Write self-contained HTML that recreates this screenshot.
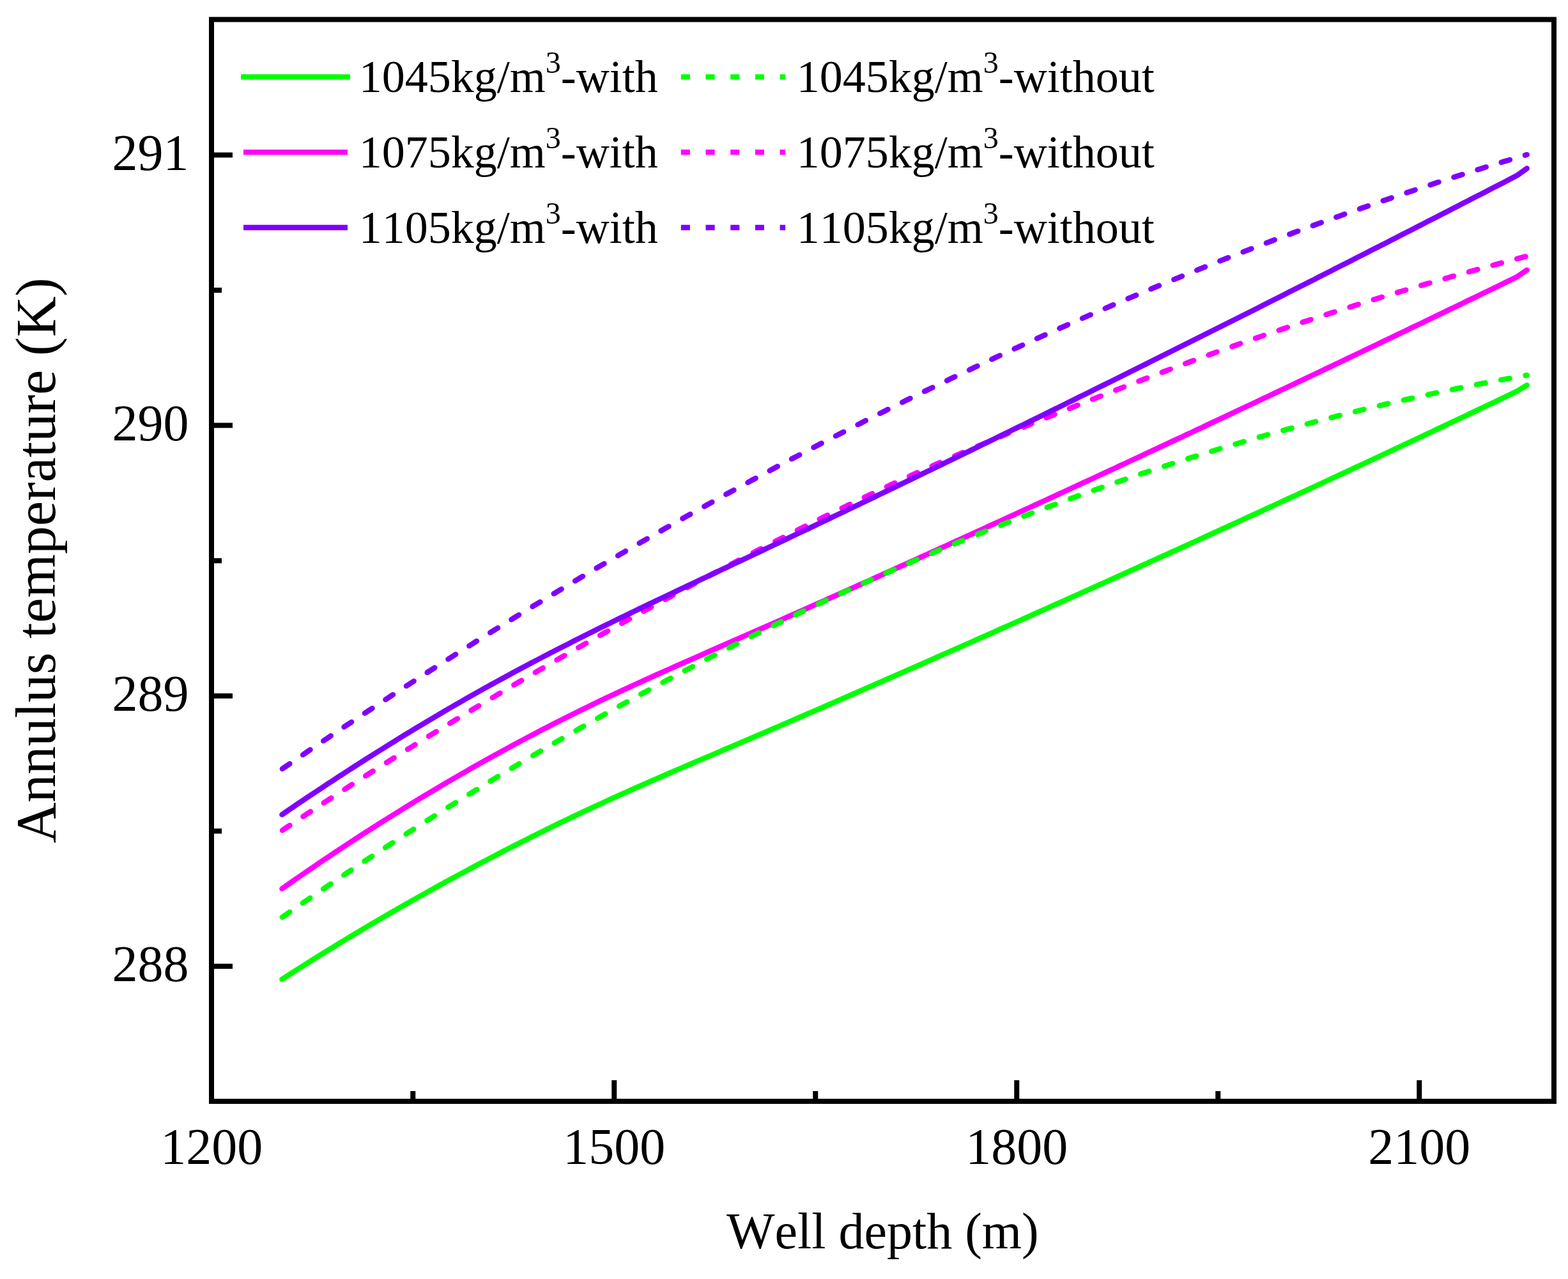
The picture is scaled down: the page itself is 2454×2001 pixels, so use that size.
<!DOCTYPE html>
<html lang="en"><head><meta charset="utf-8"><title>Annulus temperature vs well depth</title>
<style>html,body{margin:0;padding:0;background:#fff}svg{display:block}</style></head>
<body>
<svg xmlns="http://www.w3.org/2000/svg" width="2454" height="2001" viewBox="0 0 2454 2001">
<rect x="0" y="0" width="2454" height="2001" fill="#fff"/>
<g fill="none" stroke-width="8.4" stroke-linecap="round" stroke-linejoin="round">
<path d="M441.4,1390.4 L449.4,1384.8 L457.4,1379.2 L465.4,1373.6 L473.4,1368.1 L481.4,1362.6 L489.4,1357.2 L497.4,1351.7 L505.4,1346.3 L513.4,1341.0 L521.4,1335.6 L529.4,1330.3 L537.4,1325.0 L545.4,1319.8 L553.4,1314.5 L561.4,1309.3 L569.4,1304.1 L577.4,1299.0 L585.4,1293.9 L593.4,1288.8 L601.4,1283.8 L609.4,1278.7 L617.4,1273.7 L625.4,1268.8 L633.4,1263.8 L641.4,1258.9 L649.4,1254.0 L657.4,1249.2 L665.4,1244.3 L673.4,1239.6 L681.4,1234.8 L689.4,1230.0 L697.4,1225.3 L705.4,1220.7 L713.4,1216.0 L721.4,1211.4 L729.4,1206.8 L737.4,1202.2 L745.4,1197.7 L753.4,1193.2 L761.4,1188.7 L769.4,1184.3 L777.4,1179.8 L785.4,1175.4 L793.4,1171.1 L801.4,1166.7 L809.4,1162.4 L817.4,1158.1 L825.4,1153.9 L833.4,1149.7 L841.4,1145.5 L849.4,1141.3 L857.4,1137.2 L865.4,1133.1 L873.4,1129.0 L881.4,1125.0 L889.4,1120.9 L897.4,1116.9 L905.4,1113.0 L913.4,1109.1 L921.4,1105.2 L929.4,1101.3 L937.4,1097.4 L945.4,1093.6 L953.4,1089.8 L961.4,1086.1 L969.4,1082.3 L977.4,1078.6 L985.4,1074.9 L993.4,1071.2 L1001.4,1067.6 L1009.4,1063.9 L1017.4,1060.3 L1025.4,1056.7 L1033.4,1053.1 L1041.4,1049.5 L1049.4,1046.0 L1057.4,1042.4 L1065.4,1038.9 L1073.4,1035.3 L1081.4,1031.8 L1089.4,1028.3 L1097.4,1024.8 L1105.4,1021.2 L1113.4,1017.7 L1121.4,1014.2 L1129.4,1010.7 L1137.4,1007.2 L1145.4,1003.7 L1153.4,1000.2 L1161.4,996.7 L1169.4,993.2 L1177.4,989.7 L1185.4,986.1 L1193.4,982.6 L1201.4,979.1 L1209.4,975.6 L1217.4,972.0 L1225.4,968.5 L1233.4,964.9 L1241.4,961.4 L1249.4,957.8 L1257.4,954.3 L1265.4,950.7 L1273.4,947.2 L1281.4,943.6 L1289.4,940.0 L1297.4,936.4 L1305.4,932.9 L1313.4,929.3 L1321.4,925.7 L1329.4,922.1 L1337.4,918.5 L1345.4,914.9 L1353.4,911.3 L1361.4,907.8 L1369.4,904.2 L1377.4,900.6 L1385.4,896.9 L1393.4,893.3 L1401.4,889.7 L1409.4,886.1 L1417.4,882.5 L1425.4,878.9 L1433.4,875.3 L1441.4,871.6 L1449.4,868.0 L1457.4,864.4 L1465.4,860.8 L1473.4,857.1 L1481.4,853.5 L1489.4,849.8 L1497.4,846.2 L1505.4,842.6 L1513.4,838.9 L1521.4,835.3 L1529.4,831.6 L1537.4,828.0 L1545.4,824.3 L1553.4,820.7 L1561.4,817.0 L1569.4,813.3 L1577.4,809.7 L1585.4,806.0 L1593.4,802.3 L1601.4,798.7 L1609.4,795.0 L1617.4,791.3 L1625.4,787.6 L1633.4,784.0 L1641.4,780.3 L1649.4,776.6 L1657.4,772.9 L1665.4,769.2 L1673.4,765.5 L1681.4,761.8 L1689.4,758.1 L1697.4,754.4 L1705.4,750.7 L1713.4,747.0 L1721.4,743.3 L1729.4,739.6 L1737.4,735.9 L1745.4,732.2 L1753.4,728.4 L1761.4,724.7 L1769.4,721.0 L1777.4,717.3 L1785.4,713.6 L1793.4,709.8 L1801.4,706.1 L1809.4,702.4 L1817.4,698.6 L1825.4,694.9 L1833.4,691.1 L1841.4,687.4 L1849.4,683.7 L1857.4,679.9 L1865.4,676.2 L1873.4,672.4 L1881.4,668.7 L1889.4,664.9 L1897.4,661.1 L1905.4,657.4 L1913.4,653.6 L1921.4,649.9 L1929.4,646.1 L1937.4,642.3 L1945.4,638.5 L1953.4,634.8 L1961.4,631.0 L1969.4,627.2 L1977.4,623.4 L1985.4,619.7 L1993.4,615.9 L2001.4,612.1 L2009.4,608.3 L2017.4,604.5 L2025.4,600.7 L2033.4,596.9 L2041.4,593.1 L2049.4,589.3 L2057.4,585.5 L2065.4,581.7 L2073.4,577.9 L2081.4,574.1 L2089.4,570.3 L2097.4,566.5 L2105.4,562.6 L2113.4,558.8 L2121.4,555.0 L2129.4,551.2 L2137.4,547.4 L2145.4,543.5 L2153.4,539.7 L2161.4,535.9 L2169.4,532.0 L2177.4,528.2 L2185.4,524.4 L2193.4,520.5 L2201.4,516.7 L2209.4,512.8 L2217.4,509.0 L2225.4,505.2 L2233.4,501.3 L2241.4,497.5 L2249.4,493.6 L2257.4,489.7 L2265.4,485.9 L2273.4,482.0 L2281.4,478.2 L2289.4,474.3 L2297.4,470.4 L2305.4,466.6 L2313.4,462.7 L2321.4,458.8 L2329.4,455.0 L2337.4,451.1 L2345.4,447.2 L2353.4,443.3 L2361.4,439.4 L2369.4,435.5 L2372.8,433.9 L2389.7,422.6" stroke="#ff00ff"/>
<path d="M441.4,1299.4 L449.4,1294.0 L457.4,1288.7 L465.4,1283.4 L473.4,1278.1 L481.4,1272.8 L489.4,1267.5 L497.4,1262.3 L505.4,1257.0 L513.4,1251.8 L521.4,1246.6 L529.4,1241.4 L537.4,1236.2 L545.4,1231.0 L553.4,1225.9 L561.4,1220.8 L569.4,1215.6 L577.4,1210.5 L585.4,1205.4 L593.4,1200.4 L601.4,1195.3 L609.4,1190.3 L617.4,1185.2 L625.4,1180.2 L633.4,1175.2 L641.4,1170.2 L649.4,1165.2 L657.4,1160.3 L665.4,1155.3 L673.4,1150.4 L681.4,1145.5 L689.4,1140.6 L697.4,1135.7 L705.4,1130.8 L713.4,1125.9 L721.4,1121.1 L729.4,1116.2 L737.4,1111.4 L745.4,1106.6 L753.4,1101.8 L761.4,1097.0 L769.4,1092.3 L777.4,1087.5 L785.4,1082.8 L793.4,1078.0 L801.4,1073.3 L809.4,1068.6 L817.4,1063.9 L825.4,1059.2 L833.4,1054.6 L841.4,1049.9 L849.4,1045.3 L857.4,1040.6 L865.4,1036.0 L873.4,1031.4 L881.4,1026.8 L889.4,1022.2 L897.4,1017.7 L905.4,1013.1 L913.4,1008.6 L921.4,1004.1 L929.4,999.5 L937.4,995.0 L945.4,990.5 L953.4,986.1 L961.4,981.6 L969.4,977.1 L977.4,972.7 L985.4,968.3 L993.4,963.8 L1001.4,959.4 L1009.4,955.0 L1017.4,950.7 L1025.4,946.3 L1033.4,941.9 L1041.4,937.6 L1049.4,933.2 L1057.4,928.9 L1065.4,924.6 L1073.4,920.3 L1081.4,916.0 L1089.4,911.7 L1097.4,907.5 L1105.4,903.2 L1113.4,899.0 L1121.4,894.7 L1129.4,890.5 L1137.4,886.3 L1145.4,882.1 L1153.4,877.9 L1161.4,873.8 L1169.4,869.6 L1177.4,865.5 L1185.4,861.3 L1193.4,857.2 L1201.4,853.1 L1209.4,849.0 L1217.4,844.9 L1225.4,840.9 L1233.4,836.8 L1241.4,832.8 L1249.4,828.7 L1257.4,824.7 L1265.4,820.7 L1273.4,816.7 L1281.4,812.8 L1289.4,808.8 L1297.4,804.9 L1305.4,800.9 L1313.4,797.0 L1321.4,793.2 L1329.4,789.3 L1337.4,785.4 L1345.4,781.6 L1353.4,777.8 L1361.4,774.0 L1369.4,770.2 L1377.4,766.4 L1385.4,762.7 L1393.4,758.9 L1401.4,755.2 L1409.4,751.5 L1417.4,747.8 L1425.4,744.2 L1433.4,740.5 L1441.4,736.9 L1449.4,733.3 L1457.4,729.8 L1465.4,726.2 L1473.4,722.7 L1481.4,719.1 L1489.4,715.6 L1497.4,712.1 L1505.4,708.7 L1513.4,705.2 L1521.4,701.8 L1529.4,698.4 L1537.4,695.0 L1545.4,691.6 L1553.4,688.2 L1561.4,684.8 L1569.4,681.5 L1577.4,678.2 L1585.4,674.9 L1593.4,671.6 L1601.4,668.3 L1609.4,665.0 L1617.4,661.7 L1625.4,658.5 L1633.4,655.3 L1641.4,652.0 L1649.4,648.8 L1657.4,645.6 L1665.4,642.4 L1673.4,639.2 L1681.4,636.0 L1689.4,632.8 L1697.4,629.7 L1705.4,626.5 L1713.4,623.3 L1721.4,620.2 L1729.4,617.0 L1737.4,613.9 L1745.4,610.8 L1753.4,607.6 L1761.4,604.5 L1769.4,601.4 L1777.4,598.3 L1785.4,595.3 L1793.4,592.2 L1801.4,589.1 L1809.4,586.1 L1817.4,583.0 L1825.4,580.0 L1833.4,577.0 L1841.4,574.0 L1849.4,571.0 L1857.4,568.0 L1865.4,565.0 L1873.4,562.1 L1881.4,559.1 L1889.4,556.2 L1897.4,553.3 L1905.4,550.4 L1913.4,547.5 L1921.4,544.6 L1929.4,541.8 L1937.4,538.9 L1945.4,536.1 L1953.4,533.3 L1961.4,530.5 L1969.4,527.7 L1977.4,524.9 L1985.4,522.2 L1993.4,519.4 L2001.4,516.7 L2009.4,514.0 L2017.4,511.3 L2025.4,508.7 L2033.4,506.0 L2041.4,503.3 L2049.4,500.7 L2057.4,498.1 L2065.4,495.5 L2073.4,492.9 L2081.4,490.3 L2089.4,487.8 L2097.4,485.2 L2105.4,482.7 L2113.4,480.2 L2121.4,477.6 L2129.4,475.2 L2137.4,472.7 L2145.4,470.2 L2153.4,467.7 L2161.4,465.3 L2169.4,462.9 L2177.4,460.5 L2185.4,458.1 L2193.4,455.7 L2201.4,453.3 L2209.4,450.9 L2217.4,448.6 L2225.4,446.2 L2233.4,443.9 L2241.4,441.6 L2249.4,439.3 L2257.4,437.0 L2265.4,434.7 L2273.4,432.4 L2281.4,430.2 L2289.4,427.9 L2297.4,425.7 L2305.4,423.5 L2313.4,421.3 L2321.4,419.1 L2329.4,416.9 L2337.4,414.7 L2345.4,412.6 L2353.4,410.4 L2361.4,408.3 L2369.4,406.1 L2377.4,404.0 L2385.4,401.9 L2389.7,400.8" stroke="#ff00ff" stroke-dasharray="13.9 24.99" stroke-dashoffset="-0.65"/>
<path d="M441.4,1532.1 L449.4,1526.9 L457.4,1521.8 L465.4,1516.7 L473.4,1511.7 L481.4,1506.6 L489.4,1501.6 L497.4,1496.6 L505.4,1491.6 L513.4,1486.7 L521.4,1481.8 L529.4,1476.9 L537.4,1472.0 L545.4,1467.2 L553.4,1462.4 L561.4,1457.6 L569.4,1452.8 L577.4,1448.1 L585.4,1443.4 L593.4,1438.7 L601.4,1434.0 L609.4,1429.4 L617.4,1424.8 L625.4,1420.2 L633.4,1415.6 L641.4,1411.1 L649.4,1406.6 L657.4,1402.1 L665.4,1397.6 L673.4,1393.1 L681.4,1388.7 L689.4,1384.3 L697.4,1379.9 L705.4,1375.5 L713.4,1371.2 L721.4,1366.9 L729.4,1362.6 L737.4,1358.3 L745.4,1354.0 L753.4,1349.8 L761.4,1345.6 L769.4,1341.4 L777.4,1337.2 L785.4,1333.1 L793.4,1328.9 L801.4,1324.8 L809.4,1320.8 L817.4,1316.7 L825.4,1312.7 L833.4,1308.6 L841.4,1304.7 L849.4,1300.7 L857.4,1296.7 L865.4,1292.8 L873.4,1288.9 L881.4,1285.1 L889.4,1281.2 L897.4,1277.4 L905.4,1273.6 L913.4,1269.8 L921.4,1266.1 L929.4,1262.4 L937.4,1258.7 L945.4,1255.0 L953.4,1251.3 L961.4,1247.7 L969.4,1244.1 L977.4,1240.5 L985.4,1236.9 L993.4,1233.4 L1001.4,1229.8 L1009.4,1226.3 L1017.4,1222.8 L1025.4,1219.3 L1033.4,1215.8 L1041.4,1212.3 L1049.4,1208.9 L1057.4,1205.4 L1065.4,1202.0 L1073.4,1198.5 L1081.4,1195.1 L1089.4,1191.7 L1097.4,1188.3 L1105.4,1184.9 L1113.4,1181.5 L1121.4,1178.0 L1129.4,1174.6 L1137.4,1171.2 L1145.4,1167.8 L1153.4,1164.4 L1161.4,1161.0 L1169.4,1157.6 L1177.4,1154.1 L1185.4,1150.7 L1193.4,1147.3 L1201.4,1143.8 L1209.4,1140.4 L1217.4,1137.0 L1225.4,1133.5 L1233.4,1130.1 L1241.4,1126.6 L1249.4,1123.2 L1257.4,1119.7 L1265.4,1116.2 L1273.4,1112.8 L1281.4,1109.3 L1289.4,1105.8 L1297.4,1102.3 L1305.4,1098.9 L1313.4,1095.4 L1321.4,1091.9 L1329.4,1088.4 L1337.4,1084.9 L1345.4,1081.4 L1353.4,1077.9 L1361.4,1074.4 L1369.4,1070.9 L1377.4,1067.4 L1385.4,1063.9 L1393.4,1060.4 L1401.4,1056.9 L1409.4,1053.4 L1417.4,1049.9 L1425.4,1046.4 L1433.4,1042.8 L1441.4,1039.3 L1449.4,1035.8 L1457.4,1032.3 L1465.4,1028.7 L1473.4,1025.2 L1481.4,1021.7 L1489.4,1018.1 L1497.4,1014.6 L1505.4,1011.1 L1513.4,1007.5 L1521.4,1004.0 L1529.4,1000.4 L1537.4,996.9 L1545.4,993.3 L1553.4,989.8 L1561.4,986.2 L1569.4,982.6 L1577.4,979.1 L1585.4,975.5 L1593.4,972.0 L1601.4,968.4 L1609.4,964.8 L1617.4,961.2 L1625.4,957.7 L1633.4,954.1 L1641.4,950.5 L1649.4,946.9 L1657.4,943.4 L1665.4,939.8 L1673.4,936.2 L1681.4,932.6 L1689.4,929.0 L1697.4,925.4 L1705.4,921.8 L1713.4,918.2 L1721.4,914.6 L1729.4,911.0 L1737.4,907.4 L1745.4,903.8 L1753.4,900.2 L1761.4,896.6 L1769.4,892.9 L1777.4,889.3 L1785.4,885.7 L1793.4,882.1 L1801.4,878.4 L1809.4,874.8 L1817.4,871.2 L1825.4,867.6 L1833.4,863.9 L1841.4,860.3 L1849.4,856.6 L1857.4,853.0 L1865.4,849.4 L1873.4,845.7 L1881.4,842.1 L1889.4,838.4 L1897.4,834.8 L1905.4,831.1 L1913.4,827.4 L1921.4,823.8 L1929.4,820.1 L1937.4,816.5 L1945.4,812.8 L1953.4,809.1 L1961.4,805.4 L1969.4,801.8 L1977.4,798.1 L1985.4,794.4 L1993.4,790.7 L2001.4,787.0 L2009.4,783.3 L2017.4,779.7 L2025.4,776.0 L2033.4,772.3 L2041.4,768.6 L2049.4,764.9 L2057.4,761.2 L2065.4,757.5 L2073.4,753.7 L2081.4,750.0 L2089.4,746.3 L2097.4,742.6 L2105.4,738.9 L2113.4,735.2 L2121.4,731.4 L2129.4,727.7 L2137.4,724.0 L2145.4,720.2 L2153.4,716.5 L2161.4,712.8 L2169.4,709.0 L2177.4,705.3 L2185.4,701.5 L2193.4,697.8 L2201.4,694.0 L2209.4,690.2 L2217.4,686.5 L2225.4,682.7 L2233.4,678.9 L2241.4,675.2 L2249.4,671.4 L2257.4,667.6 L2265.4,663.8 L2273.4,660.1 L2281.4,656.3 L2289.4,652.5 L2297.4,648.7 L2305.4,644.9 L2313.4,641.1 L2321.4,637.3 L2329.4,633.5 L2337.4,629.7 L2345.4,625.9 L2353.4,622.0 L2361.4,618.2 L2369.4,614.4 L2373.4,612.5 L2389.7,602.7" stroke="#00ff00"/>
<path d="M441.4,1435.3 L449.4,1429.7 L457.4,1424.1 L465.4,1418.6 L473.4,1413.1 L481.4,1407.6 L489.4,1402.1 L497.4,1396.6 L505.4,1391.1 L513.4,1385.7 L521.4,1380.3 L529.4,1374.9 L537.4,1369.5 L545.4,1364.1 L553.4,1358.8 L561.4,1353.5 L569.4,1348.1 L577.4,1342.8 L585.4,1337.6 L593.4,1332.3 L601.4,1327.1 L609.4,1321.8 L617.4,1316.6 L625.4,1311.4 L633.4,1306.3 L641.4,1301.1 L649.4,1296.0 L657.4,1290.8 L665.4,1285.7 L673.4,1280.6 L681.4,1275.6 L689.4,1270.5 L697.4,1265.5 L705.4,1260.5 L713.4,1255.5 L721.4,1250.5 L729.4,1245.5 L737.4,1240.6 L745.4,1235.6 L753.4,1230.7 L761.4,1225.8 L769.4,1220.9 L777.4,1216.1 L785.4,1211.2 L793.4,1206.4 L801.4,1201.6 L809.4,1196.8 L817.4,1192.0 L825.4,1187.3 L833.4,1182.5 L841.4,1177.8 L849.4,1173.1 L857.4,1168.4 L865.4,1163.8 L873.4,1159.1 L881.4,1154.5 L889.4,1149.9 L897.4,1145.3 L905.4,1140.7 L913.4,1136.1 L921.4,1131.6 L929.4,1127.0 L937.4,1122.5 L945.4,1118.0 L953.4,1113.5 L961.4,1109.1 L969.4,1104.6 L977.4,1100.2 L985.4,1095.8 L993.4,1091.4 L1001.4,1087.0 L1009.4,1082.7 L1017.4,1078.3 L1025.4,1074.0 L1033.4,1069.7 L1041.4,1065.4 L1049.4,1061.1 L1057.4,1056.9 L1065.4,1052.6 L1073.4,1048.4 L1081.4,1044.2 L1089.4,1040.0 L1097.4,1035.9 L1105.4,1031.7 L1113.4,1027.6 L1121.4,1023.4 L1129.4,1019.4 L1137.4,1015.3 L1145.4,1011.2 L1153.4,1007.2 L1161.4,1003.1 L1169.4,999.1 L1177.4,995.1 L1185.4,991.1 L1193.4,987.2 L1201.4,983.2 L1209.4,979.3 L1217.4,975.4 L1225.4,971.5 L1233.4,967.6 L1241.4,963.8 L1249.4,959.9 L1257.4,956.1 L1265.4,952.3 L1273.4,948.5 L1281.4,944.7 L1289.4,941.0 L1297.4,937.2 L1305.4,933.5 L1313.4,929.8 L1321.4,926.1 L1329.4,922.5 L1337.4,918.8 L1345.4,915.2 L1353.4,911.6 L1361.4,908.0 L1369.4,904.4 L1377.4,900.8 L1385.4,897.3 L1393.4,893.7 L1401.4,890.2 L1409.4,886.7 L1417.4,883.2 L1425.4,879.8 L1433.4,876.3 L1441.4,872.9 L1449.4,869.5 L1457.4,866.1 L1465.4,862.7 L1473.4,859.4 L1481.4,856.0 L1489.4,852.7 L1497.4,849.4 L1505.4,846.1 L1513.4,842.8 L1521.4,839.5 L1529.4,836.3 L1537.4,833.1 L1545.4,829.9 L1553.4,826.7 L1561.4,823.5 L1569.4,820.4 L1577.4,817.2 L1585.4,814.1 L1593.4,811.0 L1601.4,807.9 L1609.4,804.8 L1617.4,801.8 L1625.4,798.8 L1633.4,795.7 L1641.4,792.7 L1649.4,789.8 L1657.4,786.8 L1665.4,783.8 L1673.4,780.9 L1681.4,778.0 L1689.4,775.1 L1697.4,772.2 L1705.4,769.3 L1713.4,766.5 L1721.4,763.7 L1729.4,760.8 L1737.4,758.0 L1745.4,755.3 L1753.4,752.5 L1761.4,749.8 L1769.4,747.0 L1777.4,744.3 L1785.4,741.6 L1793.4,738.9 L1801.4,736.3 L1809.4,733.6 L1817.4,731.0 L1825.4,728.4 L1833.4,725.8 L1841.4,723.2 L1849.4,720.7 L1857.4,718.1 L1865.4,715.6 L1873.4,713.1 L1881.4,710.6 L1889.4,708.1 L1897.4,705.7 L1905.4,703.2 L1913.4,700.8 L1921.4,698.4 L1929.4,696.0 L1937.4,693.7 L1945.4,691.3 L1953.4,689.0 L1961.4,686.6 L1969.4,684.3 L1977.4,682.0 L1985.4,679.8 L1993.4,677.5 L2001.4,675.3 L2009.4,673.1 L2017.4,670.9 L2025.4,668.7 L2033.4,666.5 L2041.4,664.4 L2049.4,662.2 L2057.4,660.1 L2065.4,658.0 L2073.4,655.9 L2081.4,653.8 L2089.4,651.8 L2097.4,649.8 L2105.4,647.7 L2113.4,645.7 L2121.4,643.8 L2129.4,641.8 L2137.4,639.8 L2145.4,637.9 L2153.4,636.0 L2161.4,634.1 L2169.4,632.2 L2177.4,630.4 L2185.4,628.5 L2193.4,626.7 L2201.4,624.9 L2209.4,623.1 L2217.4,621.3 L2225.4,619.5 L2233.4,617.8 L2241.4,616.0 L2249.4,614.3 L2257.4,612.6 L2265.4,611.0 L2273.4,609.3 L2281.4,607.6 L2289.4,606.0 L2297.4,604.4 L2305.4,602.8 L2313.4,601.2 L2321.4,599.7 L2329.4,598.1 L2337.4,596.6 L2345.4,595.1 L2353.4,593.6 L2361.4,592.1 L2369.4,590.6 L2377.4,589.2 L2385.4,587.8 L2389.7,587.0" stroke="#00ff00" stroke-dasharray="13.9 24.99" stroke-dashoffset="-0.65"/>
<path d="M441.4,1274.4 L449.4,1269.0 L457.4,1263.5 L465.4,1258.1 L473.4,1252.7 L481.4,1247.3 L489.4,1242.0 L497.4,1236.7 L505.4,1231.4 L513.4,1226.1 L521.4,1220.9 L529.4,1215.6 L537.4,1210.4 L545.4,1205.2 L553.4,1200.1 L561.4,1195.0 L569.4,1189.9 L577.4,1184.8 L585.4,1179.7 L593.4,1174.7 L601.4,1169.7 L609.4,1164.7 L617.4,1159.8 L625.4,1154.8 L633.4,1149.9 L641.4,1145.1 L649.4,1140.2 L657.4,1135.4 L665.4,1130.6 L673.4,1125.8 L681.4,1121.1 L689.4,1116.4 L697.4,1111.7 L705.4,1107.0 L713.4,1102.4 L721.4,1097.8 L729.4,1093.2 L737.4,1088.7 L745.4,1084.2 L753.4,1079.7 L761.4,1075.2 L769.4,1070.8 L777.4,1066.4 L785.4,1062.0 L793.4,1057.7 L801.4,1053.3 L809.4,1049.0 L817.4,1044.8 L825.4,1040.5 L833.4,1036.3 L841.4,1032.1 L849.4,1027.9 L857.4,1023.8 L865.4,1019.6 L873.4,1015.5 L881.4,1011.4 L889.4,1007.4 L897.4,1003.3 L905.4,999.3 L913.4,995.3 L921.4,991.3 L929.4,987.3 L937.4,983.3 L945.4,979.4 L953.4,975.5 L961.4,971.5 L969.4,967.6 L977.4,963.7 L985.4,959.9 L993.4,956.0 L1001.4,952.1 L1009.4,948.3 L1017.4,944.4 L1025.4,940.6 L1033.4,936.8 L1041.4,933.0 L1049.4,929.2 L1057.4,925.4 L1065.4,921.6 L1073.4,917.8 L1081.4,914.0 L1089.4,910.2 L1097.4,906.4 L1105.4,902.7 L1113.4,898.9 L1121.4,895.1 L1129.4,891.3 L1137.4,887.6 L1145.4,883.8 L1153.4,880.0 L1161.4,876.2 L1169.4,872.5 L1177.4,868.7 L1185.4,864.9 L1193.4,861.1 L1201.4,857.3 L1209.4,853.5 L1217.4,849.7 L1225.4,845.9 L1233.4,842.1 L1241.4,838.3 L1249.4,834.5 L1257.4,830.7 L1265.4,826.9 L1273.4,823.1 L1281.4,819.3 L1289.4,815.5 L1297.4,811.6 L1305.4,807.8 L1313.4,804.0 L1321.4,800.2 L1329.4,796.3 L1337.4,792.5 L1345.4,788.7 L1353.4,784.8 L1361.4,781.0 L1369.4,777.1 L1377.4,773.3 L1385.4,769.4 L1393.4,765.6 L1401.4,761.7 L1409.4,757.9 L1417.4,754.0 L1425.4,750.1 L1433.4,746.3 L1441.4,742.4 L1449.4,738.5 L1457.4,734.7 L1465.4,730.8 L1473.4,726.9 L1481.4,723.0 L1489.4,719.1 L1497.4,715.2 L1505.4,711.4 L1513.4,707.5 L1521.4,703.6 L1529.4,699.7 L1537.4,695.8 L1545.4,691.9 L1553.4,688.0 L1561.4,684.0 L1569.4,680.1 L1577.4,676.2 L1585.4,672.3 L1593.4,668.4 L1601.4,664.5 L1609.4,660.5 L1617.4,656.6 L1625.4,652.7 L1633.4,648.7 L1641.4,644.8 L1649.4,640.9 L1657.4,636.9 L1665.4,633.0 L1673.4,629.0 L1681.4,625.1 L1689.4,621.1 L1697.4,617.2 L1705.4,613.2 L1713.4,609.3 L1721.4,605.3 L1729.4,601.4 L1737.4,597.4 L1745.4,593.4 L1753.4,589.4 L1761.4,585.5 L1769.4,581.5 L1777.4,577.5 L1785.4,573.5 L1793.4,569.6 L1801.4,565.6 L1809.4,561.6 L1817.4,557.6 L1825.4,553.6 L1833.4,549.6 L1841.4,545.6 L1849.4,541.6 L1857.4,537.6 L1865.4,533.6 L1873.4,529.6 L1881.4,525.6 L1889.4,521.6 L1897.4,517.6 L1905.4,513.6 L1913.4,509.5 L1921.4,505.5 L1929.4,501.5 L1937.4,497.5 L1945.4,493.5 L1953.4,489.4 L1961.4,485.4 L1969.4,481.4 L1977.4,477.3 L1985.4,473.3 L1993.4,469.3 L2001.4,465.2 L2009.4,461.2 L2017.4,457.1 L2025.4,453.1 L2033.4,449.0 L2041.4,445.0 L2049.4,440.9 L2057.4,436.9 L2065.4,432.8 L2073.4,428.7 L2081.4,424.7 L2089.4,420.6 L2097.4,416.6 L2105.4,412.5 L2113.4,408.4 L2121.4,404.3 L2129.4,400.3 L2137.4,396.2 L2145.4,392.1 L2153.4,388.0 L2161.4,383.9 L2169.4,379.9 L2177.4,375.8 L2185.4,371.7 L2193.4,367.6 L2201.4,363.5 L2209.4,359.4 L2217.4,355.3 L2225.4,351.2 L2233.4,347.1 L2241.4,343.0 L2249.4,338.9 L2257.4,334.8 L2265.4,330.7 L2273.4,326.6 L2281.4,322.5 L2289.4,318.3 L2297.4,314.2 L2305.4,310.1 L2313.4,306.0 L2321.4,301.9 L2329.4,297.7 L2337.4,293.6 L2345.4,289.5 L2353.4,285.4 L2361.4,281.2 L2369.4,277.1 L2374.2,274.6 L2389.7,263.5" stroke="#8000ff"/>
<path d="M441.4,1203.2 L449.4,1197.7 L457.4,1192.2 L465.4,1186.7 L473.4,1181.3 L481.4,1175.8 L489.4,1170.4 L497.4,1165.0 L505.4,1159.6 L513.4,1154.2 L521.4,1148.8 L529.4,1143.5 L537.4,1138.1 L545.4,1132.8 L553.4,1127.5 L561.4,1122.1 L569.4,1116.8 L577.4,1111.6 L585.4,1106.3 L593.4,1101.0 L601.4,1095.8 L609.4,1090.5 L617.4,1085.3 L625.4,1080.1 L633.4,1074.9 L641.4,1069.7 L649.4,1064.5 L657.4,1059.4 L665.4,1054.2 L673.4,1049.1 L681.4,1044.0 L689.4,1038.9 L697.4,1033.8 L705.4,1028.7 L713.4,1023.6 L721.4,1018.5 L729.4,1013.5 L737.4,1008.5 L745.4,1003.4 L753.4,998.4 L761.4,993.4 L769.4,988.4 L777.4,983.5 L785.4,978.5 L793.4,973.6 L801.4,968.6 L809.4,963.7 L817.4,958.8 L825.4,953.9 L833.4,949.0 L841.4,944.2 L849.4,939.3 L857.4,934.4 L865.4,929.6 L873.4,924.8 L881.4,920.0 L889.4,915.2 L897.4,910.4 L905.4,905.6 L913.4,900.9 L921.4,896.1 L929.4,891.4 L937.4,886.7 L945.4,882.0 L953.4,877.3 L961.4,872.6 L969.4,867.9 L977.4,863.3 L985.4,858.6 L993.4,854.0 L1001.4,849.4 L1009.4,844.8 L1017.4,840.2 L1025.4,835.6 L1033.4,831.1 L1041.4,826.5 L1049.4,822.0 L1057.4,817.4 L1065.4,812.9 L1073.4,808.4 L1081.4,803.9 L1089.4,799.4 L1097.4,795.0 L1105.4,790.5 L1113.4,786.1 L1121.4,781.7 L1129.4,777.2 L1137.4,772.8 L1145.4,768.5 L1153.4,764.1 L1161.4,759.7 L1169.4,755.4 L1177.4,751.0 L1185.4,746.7 L1193.4,742.4 L1201.4,738.1 L1209.4,733.8 L1217.4,729.5 L1225.4,725.3 L1233.4,721.0 L1241.4,716.8 L1249.4,712.6 L1257.4,708.4 L1265.4,704.2 L1273.4,700.0 L1281.4,695.8 L1289.4,691.6 L1297.4,687.5 L1305.4,683.4 L1313.4,679.2 L1321.4,675.1 L1329.4,671.0 L1337.4,667.0 L1345.4,662.9 L1353.4,658.8 L1361.4,654.8 L1369.4,650.8 L1377.4,646.7 L1385.4,642.7 L1393.4,638.7 L1401.4,634.8 L1409.4,630.8 L1417.4,626.8 L1425.4,622.9 L1433.4,619.0 L1441.4,615.0 L1449.4,611.1 L1457.4,607.3 L1465.4,603.4 L1473.4,599.5 L1481.4,595.7 L1489.4,591.8 L1497.4,588.0 L1505.4,584.2 L1513.4,580.4 L1521.4,576.6 L1529.4,572.8 L1537.4,569.0 L1545.4,565.3 L1553.4,561.6 L1561.4,557.8 L1569.4,554.1 L1577.4,550.4 L1585.4,546.7 L1593.4,543.1 L1601.4,539.4 L1609.4,535.8 L1617.4,532.1 L1625.4,528.5 L1633.4,524.9 L1641.4,521.3 L1649.4,517.7 L1657.4,514.1 L1665.4,510.6 L1673.4,507.0 L1681.4,503.5 L1689.4,500.0 L1697.4,496.5 L1705.4,493.0 L1713.4,489.5 L1721.4,486.0 L1729.4,482.6 L1737.4,479.1 L1745.4,475.7 L1753.4,472.3 L1761.4,468.9 L1769.4,465.5 L1777.4,462.1 L1785.4,458.8 L1793.4,455.4 L1801.4,452.1 L1809.4,448.7 L1817.4,445.4 L1825.4,442.1 L1833.4,438.8 L1841.4,435.6 L1849.4,432.3 L1857.4,429.0 L1865.4,425.8 L1873.4,422.6 L1881.4,419.4 L1889.4,416.2 L1897.4,413.0 L1905.4,409.8 L1913.4,406.7 L1921.4,403.5 L1929.4,400.4 L1937.4,397.3 L1945.4,394.2 L1953.4,391.1 L1961.4,388.0 L1969.4,384.9 L1977.4,381.9 L1985.4,378.8 L1993.4,375.8 L2001.4,372.8 L2009.4,369.8 L2017.4,366.8 L2025.4,363.8 L2033.4,360.8 L2041.4,357.9 L2049.4,354.9 L2057.4,352.0 L2065.4,349.1 L2073.4,346.2 L2081.4,343.3 L2089.4,340.4 L2097.4,337.6 L2105.4,334.7 L2113.4,331.9 L2121.4,329.1 L2129.4,326.3 L2137.4,323.5 L2145.4,320.7 L2153.4,317.9 L2161.4,315.1 L2169.4,312.4 L2177.4,309.7 L2185.4,306.9 L2193.4,304.2 L2201.4,301.5 L2209.4,298.9 L2217.4,296.2 L2225.4,293.5 L2233.4,290.9 L2241.4,288.3 L2249.4,285.6 L2257.4,283.0 L2265.4,280.5 L2273.4,277.9 L2281.4,275.3 L2289.4,272.8 L2297.4,270.2 L2305.4,267.7 L2313.4,265.2 L2321.4,262.7 L2329.4,260.2 L2337.4,257.7 L2345.4,255.3 L2353.4,252.8 L2361.4,250.4 L2369.4,248.0 L2377.4,245.6 L2385.4,243.2 L2389.7,241.9" stroke="#8000ff" stroke-dasharray="13.9 24.99" stroke-dashoffset="-0.65"/>
</g>
<rect x="331.0" y="30.5" width="2101.0" height="1692.5" fill="none" stroke="#000" stroke-width="8.0"/>
<path d="M331.0,1511.76H364.0 M331.0,1088.69H364.0 M331.0,665.62H364.0 M331.0,242.55H364.0 M331.0,1300.22H347.0 M331.0,877.15H347.0 M331.0,454.09H347.0 M961.25,1723.0V1690.0 M1591.25,1723.0V1690.0 M2221.25,1723.0V1690.0 M646.25,1723.0V1707.0 M1276.25,1723.0V1707.0 M1906.25,1723.0V1707.0" stroke="#000" stroke-width="8.0" fill="none"/>
<g font-family="'Liberation Serif', 'Times New Roman', serif" fill="#000" style="font-kerning:none;font-variant-ligatures:none">
<text x="295.5" y="1535.3" font-size="80" text-anchor="end">288</text>
<text x="295.5" y="1112.2" font-size="80" text-anchor="end">289</text>
<text x="295.5" y="689.1" font-size="80" text-anchor="end">290</text>
<text x="295.5" y="266.1" font-size="80" text-anchor="end">291</text>
<text x="331.2" y="1820.8" font-size="80" text-anchor="middle">1200</text>
<text x="961.2" y="1820.8" font-size="80" text-anchor="middle">1500</text>
<text x="1591.2" y="1820.8" font-size="80" text-anchor="middle">1800</text>
<text x="2221.2" y="1820.8" font-size="80" text-anchor="middle">2100</text>
<text x="1381.3" y="1952.7" font-size="80" text-anchor="middle">Well depth (m)</text>
<text transform="translate(86.1,876.8) rotate(-90)" font-size="88" text-anchor="middle">Annulus temperature (K)</text>
<text x="561.7" y="144.2" font-size="72">1045kg/m<tspan font-size="48" dy="-30">3</tspan><tspan dy="30">-with</tspan></text>
<text x="1246.7" y="144.2" font-size="72">1045kg/m<tspan font-size="48" dy="-30">3</tspan><tspan dy="30">-without</tspan></text>
<text x="561.7" y="262.1" font-size="72">1075kg/m<tspan font-size="48" dy="-30">3</tspan><tspan dy="30">-with</tspan></text>
<text x="1246.7" y="262.1" font-size="72">1075kg/m<tspan font-size="48" dy="-30">3</tspan><tspan dy="30">-without</tspan></text>
<text x="561.7" y="379.9" font-size="72">1105kg/m<tspan font-size="48" dy="-30">3</tspan><tspan dy="30">-with</tspan></text>
<text x="1246.7" y="379.9" font-size="72">1105kg/m<tspan font-size="48" dy="-30">3</tspan><tspan dy="30">-without</tspan></text>
</g>
<g fill="none" stroke-width="8.3">
<path d="M377,120.3H548" stroke="#00ff00"/>
<path d="M381,238.2H544" stroke="#ff00ff"/>
<path d="M381,356.0H544" stroke="#8000ff"/>
<path d="M1065.8,120.3H1229.1" stroke="#00ff00" stroke-dasharray="14.1 24.6"/>
<path d="M1065.8,238.2H1229.1" stroke="#ff00ff" stroke-dasharray="14.1 24.6"/>
<path d="M1065.8,356.0H1229.1" stroke="#8000ff" stroke-dasharray="14.1 24.6"/>
</g>
</svg>
</body></html>
